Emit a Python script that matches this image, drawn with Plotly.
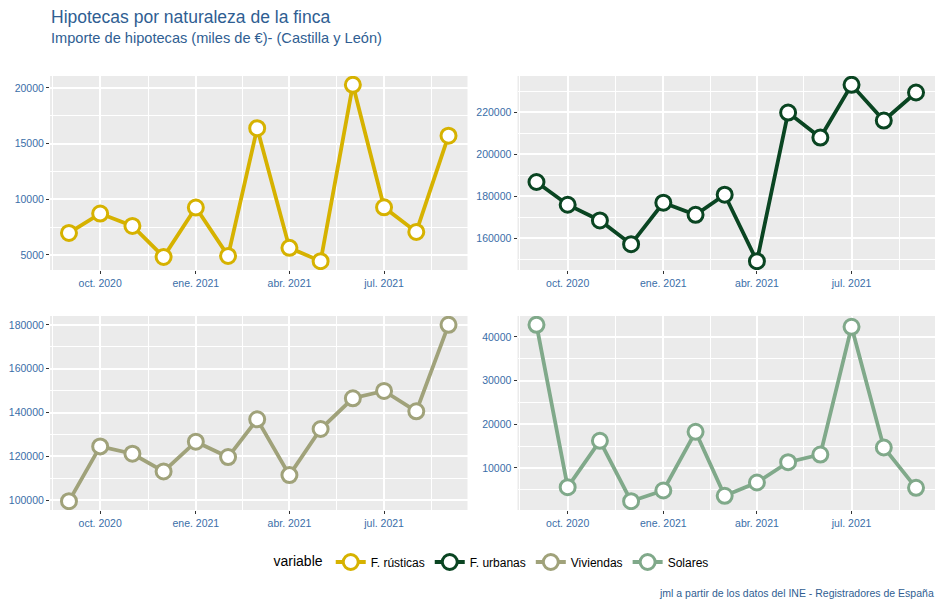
import plotly.graph_objects as go
from plotly.subplots import make_subplots
import pandas as pd

months = ["2020-09-01", "2020-10-01", "2020-11-01", "2020-12-01", "2021-01-01", "2021-02-01",
          "2021-03-01", "2021-04-01", "2021-05-01", "2021-06-01", "2021-07-01", "2021-08-01",
          "2021-09-01"]

f_rusticas = [6970, 8710, 7600, 4820, 9250, 4910, 16380, 5630, 4435, 20270, 9270, 7060, 15700]
f_urbanas = [186730, 175900, 168420, 157120, 176860, 171120, 180680, 149000, 219840, 207900,
             233050, 216020, 229390]
viviendas = [99540, 124540, 121190, 113110, 126680, 119670, 136890, 111430, 132470, 146490,
             149840, 140550, 180000]
solares = [42750, 5570, 16180, 2365, 4810, 18250, 3590, 6640, 11300, 13050, 42290, 14660, 5420]

series_names = ["F. rústicas", "F. urbanas", "Viviendas", "Solares"]
series_values = [f_rusticas, f_urbanas, viviendas, solares]
series_colors = ["#D6B200", "#0A4522", "#A0A27A", "#80A98A"]
y_dticks = [5000, 20000, 20000, 10000]

x_tickvals = ["2020-10-01", "2021-01-01", "2021-04-01", "2021-07-01"]
x_ticktext = ["oct. 2020", "ene. 2021", "abr. 2021", "jul. 2021"]

title = "Hipotecas por naturaleza de la finca"
subtitle = "Importe de hipotecas (miles de €)- (Castilla y León)"
caption = "jml a partir de los datos del INE - Registradores de España"

# page body has an 8px default margin: work in screen pixels and shift
OX, OY = 8, 8
W, H = 944 - OX, 607 - OY
ML, MR, MT, MB = 50 - OX, 9, 76 - OY, 97
PW, PH = W - ML - MR, H - MT - MB

fig = make_subplots(rows=2, cols=2, shared_xaxes=False, shared_yaxes=False,
                    horizontal_spacing=50 / PW, vertical_spacing=46 / PH)

dates = pd.to_datetime(months)
span = dates.max() - dates.min()
xr = [dates.min() - span * 0.05, dates.max() + span * 0.05]

axis_text = "#3A6EA8"
FONT = "Liberation Sans, Arial"
for i, (name, vals, col, dt) in enumerate(zip(series_names, series_values, series_colors, y_dticks)):
    r, c = i // 2 + 1, i % 2 + 1
    fig.add_trace(go.Scatter(
        x=dates, y=vals, name=name, mode="lines+markers",
        line=dict(color=col, width=3.8),
        marker=dict(symbol="circle", size=15, color="white", line=dict(color=col, width=3)),
        showlegend=True), row=r, col=c)
    lo, hi = min(vals), max(vals)
    ex = (hi - lo) * 0.05
    fig.update_yaxes(range=[lo - ex, hi + ex], dtick=dt, tick0=0, tickformat="d",
                     showgrid=True, gridcolor="white", gridwidth=1.6,
                     minor=dict(dtick=dt / 2, tick0=0, showgrid=True, gridcolor="white", gridwidth=0.7),
                     ticks="outside", ticklen=3, tickcolor="#333333", tickwidth=1,
                     tickfont=dict(family=FONT, size=10.5, color=axis_text),
                     zeroline=False, showline=False, automargin=False, row=r, col=c)
    fig.update_xaxes(type="date", range=xr, tickmode="array", tickvals=x_tickvals, ticktext=x_ticktext,
                     showgrid=True, gridcolor="white", gridwidth=1.6,
                     minor=dict(tickmode="array",
                                tickvals=["2020-08-16", "2020-11-16", "2021-02-15", "2021-05-16", "2021-08-16"],
                                showgrid=True, gridcolor="white", gridwidth=0.7),
                     ticks="outside", ticklen=3, tickcolor="#333333", tickwidth=1,
                     tickfont=dict(family=FONT, size=10.5, color=axis_text),
                     zeroline=False, showline=False, automargin=False, row=r, col=c)

def py(pix):
    return 1 - (pix - OY - MT) / PH

def px(pix):
    return (pix - OX - ML) / PW

fig.add_annotation(text=title, xref="paper", yref="paper", x=px(49), y=py(5), xanchor="left", yanchor="top",
                   showarrow=False, font=dict(family=FONT, size=17.5, color="#2F5E92"))
fig.add_annotation(text=subtitle, xref="paper", yref="paper", x=px(49), y=py(28), xanchor="left", yanchor="top",
                   showarrow=False, font=dict(family=FONT, size=14.6, color="#2F5E92"))
fig.add_annotation(text=caption, xref="paper", yref="paper", x=px(936), y=py(585), xanchor="right",
                   yanchor="top", showarrow=False, font=dict(family=FONT, size=10.5, color="#2F5E92"))

fig.update_layout(
    width=W, height=H, autosize=False,
    margin=dict(l=ML, r=MR, t=MT, b=MB, autoexpand=False),
    paper_bgcolor="white", plot_bgcolor="#EBEBEB",
    legend=dict(orientation="h", x=0.5, xanchor="center", y=py(562), yanchor="middle",
                title=dict(text="variable", font=dict(size=14, color="black")),
                font=dict(family=FONT, size=12, color="black"),
                itemwidth=30),
    font=dict(family=FONT),
)

fig.write_html("out.html")
